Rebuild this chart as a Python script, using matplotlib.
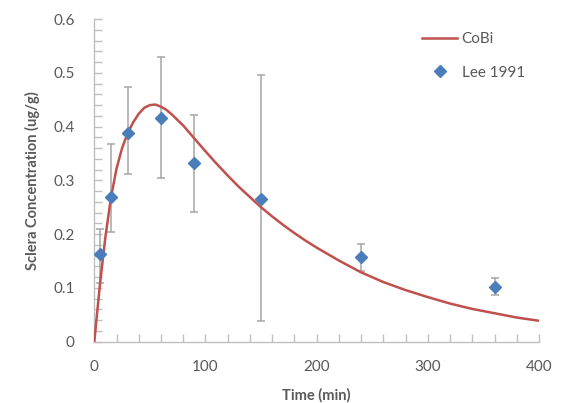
import matplotlib.pyplot as plt
from matplotlib.ticker import MultipleLocator

# CoBi model curve
cobi_time = [0, 5, 10, 15, 20, 25, 30, 35, 40, 45, 50, 55, 60, 65, 70, 80,
             90, 100, 110, 120, 130, 140, 150, 160, 170, 180, 190, 200, 220,
             240, 260, 280, 300, 320, 340, 360, 380, 400]
cobi_conc = [0, 0.105, 0.195, 0.268, 0.322, 0.360, 0.388, 0.408, 0.424,
             0.435, 0.440, 0.441, 0.437, 0.431, 0.422, 0.402, 0.378, 0.354,
             0.331, 0.309, 0.288, 0.269, 0.250, 0.233, 0.217, 0.202, 0.188,
             0.175, 0.151, 0.129, 0.111, 0.096, 0.083, 0.071, 0.061, 0.053,
             0.045, 0.039]

# Lee 1991 measurements
lee_time = [5, 15, 30, 60, 90, 150, 240, 360]
lee_conc = [0.163, 0.270, 0.388, 0.416, 0.333, 0.265, 0.157, 0.102]
lee_err_low = [0.053, 0.066, 0.077, 0.112, 0.092, 0.227, 0.025, 0.016]
lee_err_high = [0.047, 0.098, 0.085, 0.114, 0.089, 0.231, 0.024, 0.016]

text_color = "#595959"
axis_color = "#bfbfbf"

plt.rcParams["font.family"] = ["Lato", "DejaVu Sans"]

fig = plt.figure(figsize=(5.67, 4.03), dpi=100)
ax = fig.add_axes([0.1663, 0.152, 0.7843, 0.8008])

ax.plot(cobi_time, cobi_conc, color="#c0504d", lw=1.8, label="CoBi", zorder=3)
ax.errorbar(lee_time, lee_conc, yerr=[lee_err_low, lee_err_high], fmt="none",
            ecolor="#a6a6a6", elinewidth=1.1, capsize=3, capthick=1.1, zorder=2)
ax.plot(lee_time, lee_conc, ls="none", marker="D", ms=6.5, color="#4a7ebb",
        label="Lee 1991", zorder=4)

ax.set_xlim(0, 400)
ax.set_ylim(0, 0.6)
ax.xaxis.set_major_locator(MultipleLocator(100))
ax.xaxis.set_minor_locator(MultipleLocator(20))
ax.set_yticks([0, 0.1, 0.2, 0.3, 0.4, 0.5, 0.6])
ax.set_yticklabels(["0", "0.1", "0.2", "0.3", "0.4", "0.5", "0.6"])
ax.yaxis.set_minor_locator(MultipleLocator(0.02))

for side in ["top", "right"]:
    ax.spines[side].set_visible(False)
for side in ["left", "bottom"]:
    ax.spines[side].set_color(axis_color)
    ax.spines[side].set_linewidth(1)

ax.tick_params(which="both", direction="in", length=5.5, width=1,
               color=axis_color, labelcolor=text_color, labelsize=11)
ax.tick_params(axis="x", pad=13)
ax.tick_params(axis="y", pad=14)

ax.set_xlabel("Time (min)", fontsize=10.5, fontweight="bold", color=text_color,
              labelpad=10)
ax.set_ylabel("Sclera Concentration (ug/g)", fontsize=10.5, fontweight="bold",
              color=text_color, labelpad=10)

leg = ax.legend(loc="upper left", bbox_to_anchor=(0.72, 0.955),
                bbox_transform=fig.transFigure, frameon=False, fontsize=11,
                handlelength=2.3, handletextpad=0.3, labelspacing=1.3)
for t in leg.get_texts():
    t.set_color(text_color)

fig.savefig("out.png", dpi=100)
